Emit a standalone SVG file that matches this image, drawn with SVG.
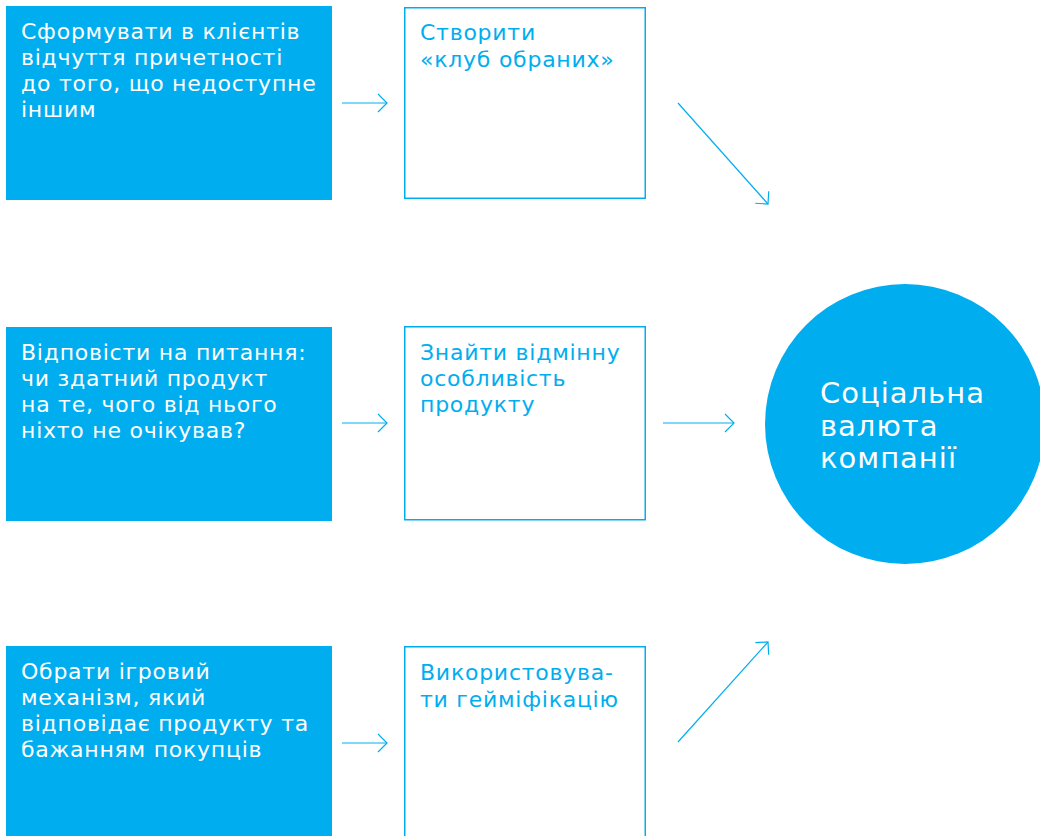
<svg xmlns="http://www.w3.org/2000/svg" width="1040" height="836" viewBox="0 0 1040 836">
<defs>
<style>
.fill{fill:#00AEEF}
.out{fill:#fff;stroke:#00AEEF;stroke-width:1.5}
.t{font-family:"DejaVu Sans","Open Sans",sans-serif;font-size:22px;letter-spacing:0.75px}
.w{fill:#fff}
.b{fill:#00AEEF}
.big{font-family:"DejaVu Sans","Open Sans",sans-serif;font-size:29px;letter-spacing:1px;fill:#fff}
.c{stroke:#00AEEF;stroke-width:1.2;fill:none}
</style>
<marker id="ah" viewBox="0 0 12 20" refX="10.5" refY="10" markerWidth="12" markerHeight="20" markerUnits="userSpaceOnUse" orient="auto">
<path d="M1.5,1 L10.5,10 L1.5,19" fill="none" stroke="#00AEEF" stroke-width="1.2"/>
</marker>
</defs>
<rect width="1040" height="836" fill="#fff"/>
<g id="n1"><rect class="fill" x="6" y="6" width="326" height="194"/>
<text class="t w"><tspan x="21" y="39">Сформувати в клієнтів</tspan><tspan x="21" y="65">відчуття причетності</tspan><tspan x="21" y="91">до того, що недоступне</tspan><tspan x="21" y="117">іншим</tspan></text></g>
<g id="n2"><rect class="out" x="404.75" y="7.75" width="240.5" height="190.5"/>
<text class="t b"><tspan x="420" y="40">Створити</tspan><tspan x="420" y="67">«клуб обраних»</tspan></text></g>
<g id="n3"><rect class="fill" x="6" y="327" width="326" height="194"/>
<text class="t w"><tspan x="21" y="360">Відповісти на питання:</tspan><tspan x="21" y="386">чи здатний продукт</tspan><tspan x="21" y="412">на те, чого від нього</tspan><tspan x="21" y="438">ніхто не очікував?</tspan></text></g>
<g id="n4"><rect class="out" x="404.75" y="326.75" width="240.5" height="193"/>
<text class="t b"><tspan x="420" y="360">Знайти відмінну</tspan><tspan x="420" y="386">особливість</tspan><tspan x="420" y="412">продукту</tspan></text></g>
<g id="n5"><rect class="fill" x="6" y="646" width="326" height="200"/>
<text class="t w"><tspan x="21" y="679">Обрати ігровий</tspan><tspan x="21" y="705">механізм, який</tspan><tspan x="21" y="731">відповідає продукту та</tspan><tspan x="21" y="757">бажанням покупців</tspan></text></g>
<g id="n6"><rect class="out" x="404.75" y="646.75" width="240.5" height="200"/>
<text class="t b"><tspan x="420" y="680">Використовува-</tspan><tspan x="420" y="707">ти гейміфікацію</tspan></text></g>
<g id="n7"><circle class="fill" cx="905" cy="424" r="140"/>
<text class="big"><tspan x="820" y="403">Соціальна</tspan><tspan x="820" y="436">валюта</tspan><tspan x="820" y="468">компанії</tspan></text></g>
<g id="connectors">
<line class="c" x1="342" y1="103" x2="387" y2="103" marker-end="url(#ah)"/>
<line class="c" x1="342" y1="423" x2="387" y2="423" marker-end="url(#ah)"/>
<line class="c" x1="342" y1="743" x2="387" y2="743" marker-end="url(#ah)"/>
<line class="c" x1="663" y1="423" x2="734" y2="423" marker-end="url(#ah)"/>
<line class="c" x1="678" y1="103" x2="768" y2="204" marker-end="url(#ah)"/>
<line class="c" x1="678" y1="742" x2="768" y2="642" marker-end="url(#ah)"/>
</g>
</svg>
